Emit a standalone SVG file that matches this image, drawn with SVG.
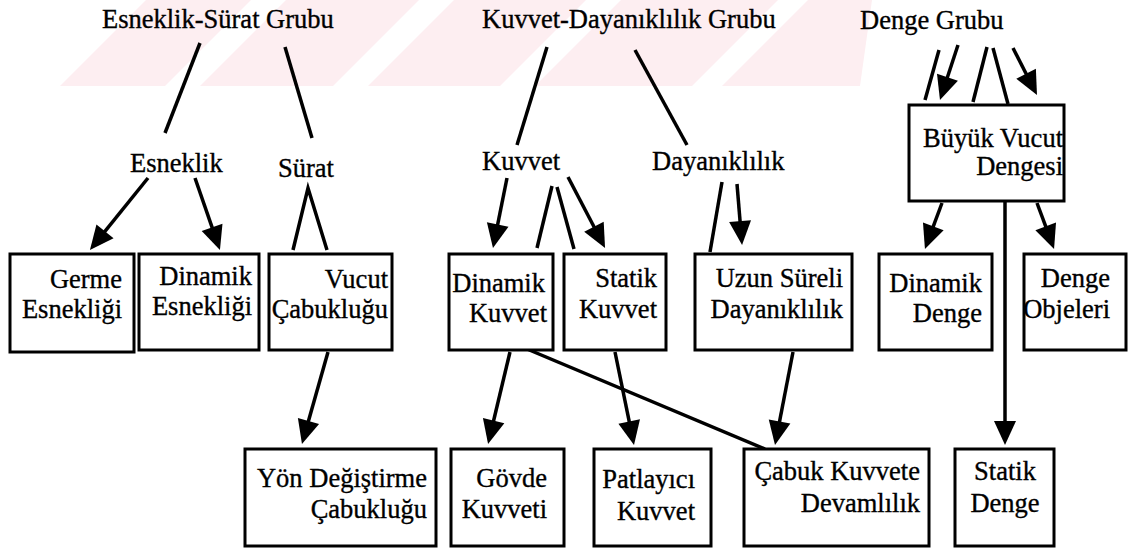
<svg xmlns="http://www.w3.org/2000/svg" width="1130" height="548" viewBox="0 0 1130 548">
<style>
.bx{fill:#fff;stroke:#000;stroke-width:3}
.t{font-family:"Liberation Serif","Times New Roman",serif;font-size:26.5px;fill:#000;stroke:#000;stroke-width:0.35}
.e{text-anchor:end}
.c{text-anchor:middle}
.ln{fill:none;stroke:#000;stroke-width:3.5;stroke-linecap:butt}
.ar{marker-end:url(#ah)}
</style>
<defs>
<marker id="ah" markerUnits="userSpaceOnUse" markerWidth="26" markerHeight="24" refX="4" refY="11" orient="auto" overflow="visible">
<path d="M0,0 L24,11 L0,22 z" fill="#000"/>
</marker>
<clipPath id="wmclip"><polygon points="60,86 146,0 872,0 860,86"/></clipPath>
</defs>
<g id="watermark" fill="#fdeef1" clip-path="url(#wmclip)">
<polygon points="0,86 165,86 251,0 86,0"/>
<polygon points="200,86 333,86 419,0 286,0"/>
<polygon points="368,86 500,86 586,0 454,0"/>
<polygon points="535,86 692,86 778,0 621,0"/>
<polygon points="722,86 900,86 986,0 808,0"/>
</g>
<g id="connectors">
<path class="ln" d="M200,43 L165,133"/>
<path class="ln" d="M285,47 L312,138"/>
<path class="ln" d="M293,250 L308,188 L327,250"/>
<path class="ln" d="M547,47 L517,145"/>
<path class="ln" d="M635,50 L687,145"/>
<path class="ln" d="M537,248 L552,186"/>
<path class="ln" d="M557,187 L574,249"/>
<path class="ln" d="M722,182 L710,252"/>
<path class="ln" d="M939,50 L925,100"/>
<path class="ln" d="M987,47 L973,102"/>
<path class="ln" d="M993,48 L1008,104"/>
<path class="ln" d="M527,349 L765,449"/>
<path class="ln ar" d="M148,178 L102.5,234.4"/>
<path class="ln ar" d="M195,178 L213.4,231.1"/>
<path class="ln ar" d="M328,352 L307.4,424.8"/>
<path class="ln ar" d="M507,178 L496.9,228.4"/>
<path class="ln ar" d="M568,177 L595.8,230.3"/>
<path class="ln ar" d="M737,184 L740.4,225.1"/>
<path class="ln ar" d="M958,45 L946.2,81"/>
<path class="ln ar" d="M1013,48 L1027.9,77.2"/>
<path class="ln ar" d="M942,203 L931.9,230.2"/>
<path class="ln ar" d="M1005,202 L1005,425"/>
<path class="ln ar" d="M1037,203 L1047.1,230.2"/>
<path class="ln ar" d="M510,352 L492.7,424.5"/>
<path class="ln ar" d="M615,352 L630,425.4"/>
<path class="ln ar" d="M793,352 L778.8,425.4"/>
</g>
<g id="labels">
<text id="g1" class="t" x="102" y="28">Esneklik-Sürat Grubu</text>
<text id="g2" class="t" x="482" y="28">Kuvvet-Dayanıklılık Grubu</text>
<text id="g3" class="t" x="860" y="29">Denge Grubu</text>
<text id="esneklik" class="t" x="130" y="172">Esneklik</text>
<text id="surat" class="t" x="278" y="177">Sürat</text>
<text id="kuvvet" class="t" x="482" y="170">Kuvvet</text>
<text id="dayaniklilik" class="t" x="652" y="170">Dayanıklılık</text>
</g>
<g id="n-germe"><rect class="bx" x="10" y="254" width="124" height="98"/><text class="t e" x="122" y="288">Germe</text><text class="t e" x="122" y="318">Esnekliği</text></g>
<g id="n-dinesnek"><rect class="bx" x="139" y="254" width="120" height="96"/><text class="t e" x="252" y="285">Dinamik</text><text class="t e" x="252" y="315">Esnekliği</text></g>
<g id="n-vucut"><rect class="bx" x="269" y="254" width="123" height="96"/><text class="t e" x="388" y="288">Vucut</text><text class="t e" x="388" y="318">Çabukluğu</text></g>
<g id="n-yon"><rect class="bx" x="245" y="449" width="191" height="97"/><text class="t e" x="427" y="487">Yön Değiştirme</text><text class="t e" x="427" y="518">Çabukluğu</text></g>
<g id="n-dinkuv"><rect class="bx" x="449" y="254" width="104" height="96"/><text class="t e" x="545" y="292">Dinamik</text><text class="t e" x="547" y="322">Kuvvet</text></g>
<g id="n-statkuv"><rect class="bx" x="564" y="254" width="102" height="96"/><text class="t e" x="657" y="287">Statik</text><text class="t e" x="657" y="318">Kuvvet</text></g>
<g id="n-uzun"><rect class="bx" x="695" y="254" width="157" height="96"/><text class="t e" x="843" y="287">Uzun Süreli</text><text class="t e" x="843" y="318">Dayanıklılık</text></g>
<g id="n-govde"><rect class="bx" x="451" y="449" width="113" height="97"/><text class="t e" x="547" y="487">Gövde</text><text class="t e" x="547" y="518">Kuvveti</text></g>
<g id="n-patlayici"><rect class="bx" x="594" y="449" width="117" height="97"/><text class="t e" x="695" y="488">Patlayıcı</text><text class="t e" x="695" y="520">Kuvvet</text></g>
<g id="n-cabuk"><rect class="bx" x="744" y="449" width="185" height="97"/><text class="t e" x="920" y="480">Çabuk Kuvvete</text><text class="t e" x="920" y="512">Devamlılık</text></g>
<g id="n-statdenge"><rect class="bx" x="955" y="449" width="99" height="97"/><text class="t c" x="1005" y="480">Statik</text><text class="t c" x="1005" y="512">Denge</text></g>
<g id="n-dindenge"><rect class="bx" x="879" y="254" width="113" height="96"/><text class="t e" x="982" y="292">Dinamik</text><text class="t e" x="982" y="322">Denge</text></g>
<g id="n-objeler"><rect class="bx" x="1024" y="254" width="102" height="96"/><text class="t e" x="1110" y="287">Denge</text><text class="t e" x="1110" y="318">Objeleri</text></g>
<g id="n-buyuk"><rect class="bx" x="909" y="105" width="155" height="96"/><text class="t e" x="1063" y="147">Büyük Vucut</text><text class="t e" x="1063" y="175">Dengesi</text></g>
</svg>
